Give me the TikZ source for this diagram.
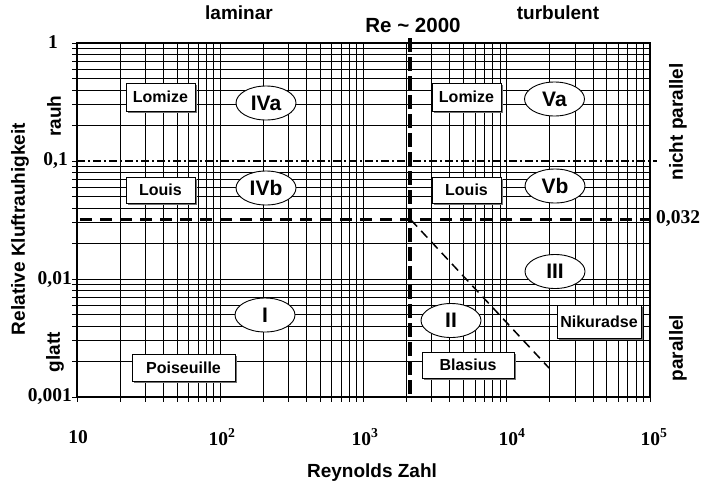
\documentclass[tikz,border=0pt]{standalone}
\usepackage{fontspec}
\setmainfont{Liberation Serif}
\setsansfont{Liberation Sans}
\usetikzlibrary{shapes.geometric,shadows}
\begin{document}
\begin{tikzpicture}[x=1pt,y=-1pt,
  grid/.style={line width=0.9pt},
  lbl/.style={font=\sffamily\bfseries\fontsize{19}{22}\selectfont, inner sep=0pt},
  num/.style={font=\rmfamily\bfseries\fontsize{19.5}{22}\selectfont, inner sep=0pt},
  namebox/.style={draw, line width=1pt, fill=white, inner sep=0pt,
    font=\sffamily\bfseries\fontsize{16}{18}\selectfont,
    drop shadow={shadow xshift=1.5pt, shadow yshift=-1.5pt, fill=black!55, opacity=1}},
  regime/.style={ellipse, draw, line width=0.9pt, fill=white, inner sep=0pt,
    minimum width=60pt, minimum height=34pt,
    font=\sffamily\bfseries\fontsize{21}{24}\selectfont},
]
\useasboundingbox (0,0) rectangle (703,485);

% vertical grid lines with ticks below
\foreach \d in {0,1,2,3} {
  \foreach \m in {1,...,9} {
    \pgfmathsetmacro\xx{77+143.25*(\d+ln(\m)/ln(10))}
    \draw[grid] (\xx,43) -- (\xx,402);
  }
}
\draw[grid] (650,43) -- (650,402);

% horizontal grid lines with ticks left
\foreach \k in {1,2,3} {
  \foreach \m in {1,...,9} {
    \pgfmathsetmacro\yy{43+118*(\k-ln(\m)/ln(10))}
    \draw[grid] (72,\yy) -- (77,\yy);
    \ifnum\numexpr\k*10+\m\relax=11 \else
      \draw[grid] (77,\yy) -- (650,\yy);
    \fi
  }
}
\draw[grid] (72,43) -- (77,43);

% frame
\draw[line width=1.5pt] (77,43) rectangle (650,397);
\draw[line width=2pt] (77,43) -- (77,397) -- (650,397);

% special lines
\draw[line width=1.3pt, dash pattern=on 8pt off 3pt on 2pt off 3pt] (77,161) -- (657,161);
\draw[line width=3.2pt, dash pattern=on 12pt off 8pt] (80,219.4) -- (650,219.4);
\draw[line width=3.2pt, dash pattern=on 14pt off 5pt] (410,38) -- (410,397);
\coordinate (d1) at (411,220);
\coordinate (d2) at (549,368);
\draw[line width=1.5pt, dash pattern=on 9pt off 6pt] (d1) -- (d2);

% boxes
\node[namebox, minimum width=69pt, minimum height=28pt] (lomL) at (160.5,97) {Lomize};
\node[namebox, minimum width=69pt, minimum height=26pt] (louL) at (160.5,190) {Louis};
\node[namebox, minimum width=69pt, minimum height=28pt] (lomR) at (466.5,97) {Lomize};
\node[namebox, minimum width=69pt, minimum height=26pt] (louR) at (466.5,190) {Louis};
\node[namebox, minimum width=103pt, minimum height=27pt] (poi) at (183.5,367.5) {Poiseuille};
\node[namebox, minimum width=92pt, minimum height=26pt] (bla) at (468,365) {Blasius};
\node[namebox, minimum width=84pt, minimum height=33pt] (nik) at (599,321.5) {Nikuradse};

% regime ellipses
\node[regime] (IVa) at (266,103) {IVa};
\node[regime] (IVb) at (266,188) {IVb};
\node[regime] (Va) at (554.5,99) {Va};
\node[regime] (Vb) at (555,186) {Vb};
\node[regime] (III) at (555,271.5) {III};
\node[regime] (II) at (451,320.5) {II};
\node[regime] (I) at (265,315) {I};

% titles
\node[lbl] (lam) at (239,13) {laminar};
\node[lbl] (tur) at (558,13) {turbulent};
\node[lbl, font=\sffamily\bfseries\fontsize{20.5}{24}\selectfont] (re) at (413,25) {Re \textasciitilde{} 2000};
\node[lbl, rotate=90] (rk) at (20,229) {Relative Kluftrauhigkeit};
\node[lbl, rotate=90] (rauh) at (54,116) {rauh};
\node[lbl, rotate=90] (glatt) at (55,352) {glatt};
\node[lbl, rotate=90] (np) at (678,122) {nicht parallel};
\node[lbl, rotate=90] (par) at (678,348) {parallel};
\node[lbl] (rz) at (372,473) {Reynolds Zahl};

% axis numbers
\node[num, anchor=mid east] (y1) at (58,46) {1};
\node[num, anchor=mid east] (y2) at (68,163) {0,1};
\node[num, anchor=mid east] (y3) at (72,282) {0,01};
\node[num, anchor=mid east] (y4) at (72,399) {0,001};
\node[num, anchor=mid west] (y5) at (656,221) {0,032};
\node[num] (x1) at (78,437) {10};
\node[num] (x2) at (222,437) {10\textsuperscript{2}};
\node[num] (x3) at (365,437) {10\textsuperscript{3}};
\node[num] (x4) at (512,437) {10\textsuperscript{4}};
\node[num] (x5) at (654,437) {10\textsuperscript{5}};
\end{tikzpicture}
\end{document}
